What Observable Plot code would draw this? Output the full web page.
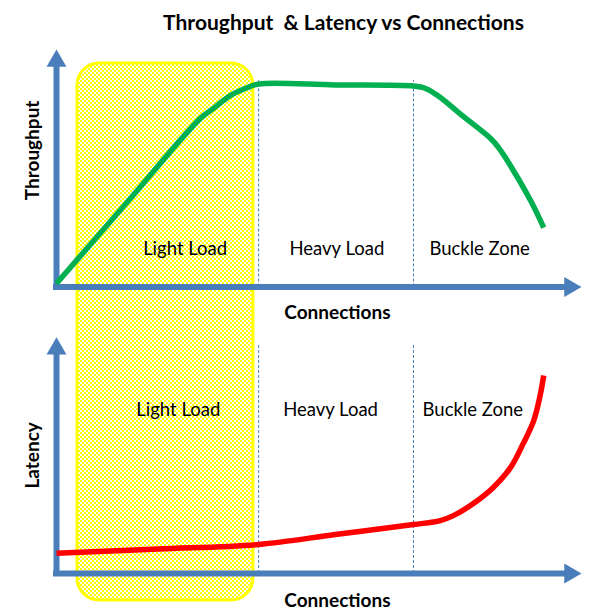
<!DOCTYPE html>
<html>
<head>
<meta charset="utf-8">
<script src="https://cdn.jsdelivr.net/npm/d3@7"></script>
<script src="https://cdn.jsdelivr.net/npm/@observablehq/plot@0.6"></script>
<style>
  body { margin: 0; background: white; font-family: Lato, "Open Sans", sans-serif; }
  #wrap { position: relative; width: 590px; height: 614px; }
  #title { position: absolute; left: 0; top: 10px; width: 590px; box-sizing: border-box; padding-left: 97px;
           text-align: center; font-weight: bold; font-size: 21px; line-height: 24px; white-space: pre; color: #000; }
  .layer { position: absolute; left: 0; }
</style>
</head>
<body>
<svg width="0" height="0" style="position:absolute">
  <defs>
    <pattern id="dots" width="4" height="4" patternUnits="userSpaceOnUse">
      <rect width="4" height="4" fill="#ffffff"></rect>
      <rect x="0" y="0" width="2" height="2" fill="#ffff00"></rect>
      <rect x="2" y="2" width="2" height="2" fill="#ffff00"></rect>
    </pattern>
  </defs>
</svg>
<div id="wrap">
  <div id="title">Throughput  &amp; Latency vs Connections</div>
  <div id="bg" class="layer" style="top:40px"></div>
  <div id="top" class="layer" style="top:40px"></div>
  <div id="bottom" class="layer" style="top:330px"></div>
</div>
<script>
// ---- data (connections on a 0–100 scale, metrics on 0–100 scales) ----
const zoneNames = ["Light Load", "Heavy Load", "Buckle Zone"];
const zoneBoundaries = [38.5, 68];
const lightLoadBox = [4, 37.5];

const throughputConn = [0, 13.7, 27.4, 29.9, 33.1, 36.4, 38.5, 53, 68, 70.3, 72.6, 77.5, 82.7, 84.2, 85.5, 90.3, 92.8];
const throughputVal  = [1.5, 36.3, 71, 75.2, 80.6, 84, 85.5, 85.1, 84.6, 83.6, 80.6, 71.8, 62.5, 58.7, 54.5, 36.4, 25];

const latencyConn = [0, 19.4, 38.5, 53.1, 68, 73.1, 75.6, 79.4, 83.2, 86.5, 88.9, 90.9, 92.2, 92.8];
const latencyVal  = [8.6, 10.4, 12.3, 16.5, 20.7, 22.4, 24.5, 29.6, 36.4, 44.9, 55, 64.7, 76.2, 83.8];

const topLabelConn = [24.5, 53.4, 80.6];
const topLabelVal = 15.8;
const bottomLabelConn = [23.2, 52.2, 79.3];
const bottomLabelVal = 69;

const throughput = throughputConn.map((c, i) => ({c, v: throughputVal[i]}));
const latency = latencyConn.map((c, i) => ({c, v: latencyVal[i]}));
const topLabels = zoneNames.map((name, i) => ({name, c: topLabelConn[i], v: topLabelVal}));
const bottomLabels = zoneNames.map((name, i) => ({name, c: bottomLabelConn[i], v: bottomLabelVal}));

const AXIS = "#4a7ebb";
const FONT = "Lato, 'Open Sans', sans-serif";
const xScale = {domain: [0, 100], axis: null};
const baseStyle = {background: "transparent", overflow: "visible", fontFamily: FONT};

// ---- background: Light Load highlight box spanning both panels ----
document.getElementById("bg").append(Plot.plot({
  width: 590, height: 574,
  marginLeft: 56, marginRight: 9, marginTop: 23, marginBottom: 14,
  x: xScale, y: {domain: [0, 1], axis: null},
  style: baseStyle,
  marks: [
    Plot.rect([lightLoadBox], {x1: d => d[0], x2: d => d[1], y1: 0, y2: 1,
      rx: 22, ry: 22, fill: "url(#dots)", stroke: "#ffff00", strokeWidth: 3})
  ]
}));

function panel({height, marginTop, marginBottom, data, color, labels, label, labelVal, dashTop, yHeadBase, connDy}) {
  return Plot.plot({
    width: 590, height,
    marginLeft: 56, marginRight: 9, marginTop, marginBottom,
    x: xScale, y: {domain: [0, 100], axis: null},
    style: baseStyle,
    marks: [
      Plot.ruleX(zoneBoundaries, {y1: 0, y2: dashTop, stroke: AXIS, strokeWidth: 1, strokeDasharray: "3,2"}),
      Plot.ruleX([0], {y1: 0, y2: yHeadBase, stroke: AXIS, strokeWidth: 6, strokeLinecap: "square"}),
      Plot.ruleY([0], {x1: 0, x2: 96.6, stroke: AXIS, strokeWidth: 6, strokeLinecap: "square"}),
      Plot.dot([{c: 0, v: 100}], {x: "c", y: "v", symbol: "triangle", r: 7.4, fill: AXIS, stroke: null, dy: 11.5}),
      Plot.dot([{c: 100, v: 0}], {x: "c", y: "v", symbol: "triangle", r: 7.4, fill: AXIS, stroke: null, dx: -11.5, rotate: 90}),
      Plot.line(data, {x: "c", y: "v", stroke: color, strokeWidth: 5.5, curve: "catmull-rom", strokeLinecap: "butt", strokeLinejoin: "round"}),
      Plot.text(labels, {x: "c", y: "v", text: "name", fontSize: 18.5, fill: "#000"}),
      Plot.text(["Connections"], {x: 53.5, y: 0, dy: connDy, fontSize: 19, fontWeight: "bold", fill: "#000"}),
      Plot.text([label], {x: 0, y: labelVal, dx: -24, rotate: -90, fontSize: 19, fontWeight: "bold", fill: "#000"})
    ]
  });
}

document.getElementById("top").append(panel({
  height: 290, marginTop: 9, marginBottom: 43.5,
  data: throughput, color: "#00b050", labels: topLabels,
  label: "Throughput", labelVal: 57.5, dashTop: 87, yHeadBase: 93, connDy: 25.5
}));

document.getElementById("bottom").append(panel({
  height: 284, marginTop: 6.7, marginBottom: 41,
  data: latency, color: "#ff0000", labels: bottomLabels,
  label: "Latency", labelVal: 50, dashTop: 97.3, yHeadBase: 93, connDy: 27
}));
</script>
</body>
</html>
